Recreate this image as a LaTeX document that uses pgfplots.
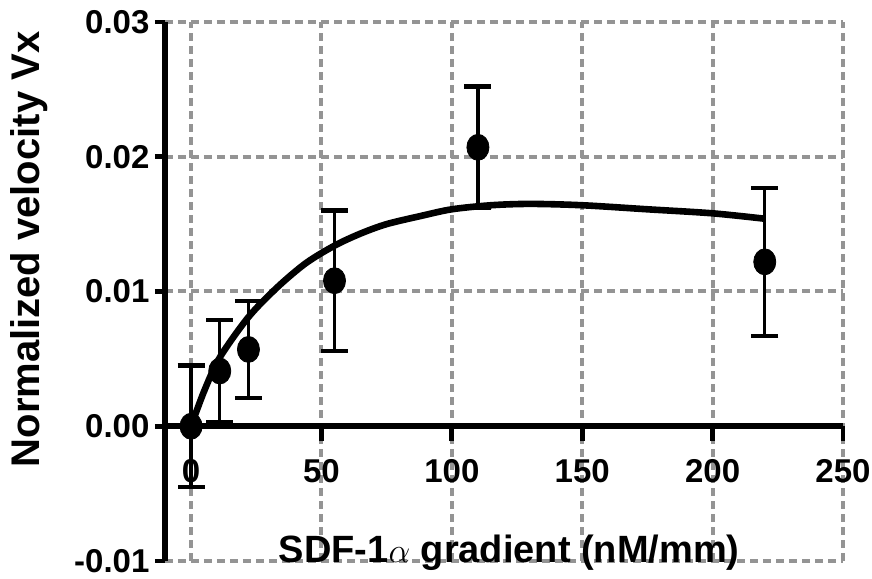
\documentclass[border=0pt]{standalone}
\usepackage{pgfplots}
\pgfplotsset{compat=1.18}
\usepackage{fontspec}
\setmainfont{Liberation Sans}

% measured means and SEM
\pgfplotstableread{
x    y       err
0    0.0000  0.0045
11   0.0041  0.0038
22   0.0057  0.0036
55   0.0108  0.0052
110  0.0207  0.0045
220  0.0122  0.0055
}\means

% fitted curve
\pgfplotstableread{
x    y
0    0.0000
5    0.0026
11   0.0051
22   0.0081
33   0.0103
44   0.0121
55   0.0134
65   0.0143
75   0.0150
88   0.0156
100  0.0161
115  0.0164
130  0.0165
150  0.0164
175  0.0161
200  0.0158
220  0.0154
}\fit

\begin{document}
\begin{tikzpicture}
\begin{axis}[
    scale only axis,
    width=339pt, height=269.5pt,
    xmin=-10, xmax=250, ymin=-0.01, ymax=0.03,
    axis x line=middle, axis y line=left,
    axis line style={-, line width=3.2pt, black},
    hide obscured x ticks=false, hide obscured y ticks=false,
    xtick={0,50,100,150,200,250},
    ytick={-0.01,0,0.01,0.02,0.03},
    scaled y ticks=false,
    tick align=outside,
    tick style={black, line width=2.4pt},
    xtick style={/pgfplots/major tick length=7.5pt},
    ytick style={/pgfplots/major tick length=5pt},
    grid=major,
    grid style={black!42, line width=2pt, dash pattern=on 4pt off 2.5pt},
    /pgf/number format/assume math mode=true,
    ticklabel style={font=\bfseries\fontsize{16.5}{18}\selectfont},
    xticklabel style={yshift=-9pt},
    yticklabel style={/pgf/number format/.cd, fixed, fixed zerofill, precision=2},
    clip=false]

    \addplot[line width=3.3pt, smooth, black] table[x=x, y=y] {\fit};

    \addplot[only marks, black, mark=*, mark size=6.5pt,
        mark options={xscale=0.85, fill=black},
        error bars/.cd, y dir=both, y explicit,
        error bar style={line width=1.6pt, black},
        error mark options={rotate=90, line width=2.2pt, mark size=6.75pt, black}]
        table[x=x, y=y, y error=err] {\means};

    \node[anchor=base, font=\bfseries\fontsize{19}{21}\selectfont]
        at (axis cs:122,-0.0101) {SDF-1$\alpha$ gradient (nM/mm)};
    \node[rotate=90, anchor=center, font=\bfseries\fontsize{20}{22}\selectfont]
        at ([xshift=-68pt]rel axis cs:0,0.578) {Normalized velocity Vx};

    \coordinate (bl) at (rel axis cs:0,0);
    \coordinate (tr) at (rel axis cs:1,1);
\end{axis}
\pgfresetboundingbox
\useasboundingbox ([shift={(-82.5pt,-9pt)}]bl) rectangle ([shift={(14.5pt,11pt)}]tr);
\end{tikzpicture}
\end{document}
